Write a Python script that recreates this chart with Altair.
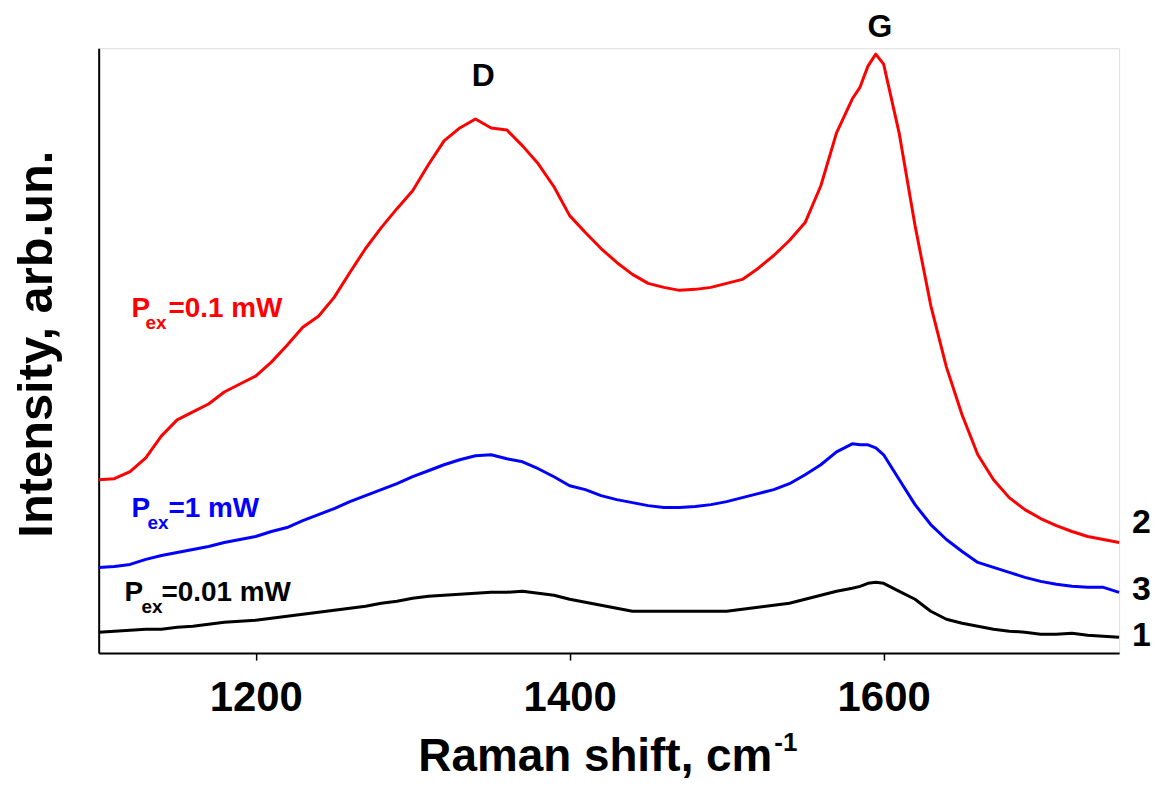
import altair as alt
import pandas as pd

# Raman shift grid (cm^-1)
wavenumber = [1100, 1110, 1120, 1130, 1140, 1150, 1160, 1170, 1180, 1190,
              1200, 1210, 1220, 1230, 1240, 1250, 1260, 1270, 1280, 1290,
              1300, 1310, 1320, 1330, 1340, 1350, 1360, 1370, 1380, 1390,
              1400, 1410, 1420, 1430, 1440, 1450, 1460, 1470, 1480, 1490,
              1500, 1510, 1520, 1530, 1540, 1550, 1560, 1570, 1580, 1585,
              1590, 1595, 1600, 1610, 1620, 1630, 1640, 1650, 1660, 1670,
              1680, 1690, 1700, 1710, 1720, 1730, 1740, 1750]

# curve 2: Pex = 0.1 mW (red)
red = [174, 175, 182, 196, 218, 234, 242, 250, 262, 270,
       278, 292, 309, 327, 338, 357, 382, 406, 427, 446,
       464, 490, 514, 527, 536, 527, 525, 509, 491, 468,
       439, 422, 406, 392, 380, 371, 367, 364, 365, 367,
       371, 375, 386, 399, 414, 432, 469, 522, 556, 568,
       589, 601, 591, 521, 429, 349, 287, 239, 199, 174,
       156, 144, 135, 128, 122, 117, 114, 111]

# curve 3: Pex = 1 mW (blue)
blue = [86, 87, 89, 94, 98, 101, 104, 107, 111, 114,
        117, 122, 126, 133, 139, 145, 152, 158, 164, 170,
        177, 183, 189, 194, 198, 199, 195, 192, 185, 177,
        168, 164, 158, 154, 151, 148, 146, 146, 147, 149,
        152, 156, 160, 164, 170, 179, 189, 202, 210, 209,
        209, 206, 199, 174, 149, 129, 114, 102, 91, 86,
        81, 76, 72, 69, 67, 66, 66, 61]

# curve 1: Pex = 0.01 mW (black)
black = [21, 22, 23, 24, 24, 26, 27, 29, 31, 32,
         33, 35, 37, 39, 41, 43, 45, 47, 50, 52,
         55, 57, 58, 59, 60, 61, 61, 62, 60, 58,
         54, 51, 48, 45, 42, 42, 42, 42, 42, 42,
         42, 44, 46, 48, 50, 54, 58, 62, 65, 67,
         70, 71, 70, 62, 54, 42, 34, 30, 27, 24,
         22, 21, 19, 19, 20, 18, 17, 16]

series_names = ["0.1 mW", "1 mW", "0.01 mW"]
series_colors = ["#ff0000", "#0000ff", "#000000"]
xticks = [1200, 1400, 1600]

rows = []
for name, vals in zip(series_names, [red, blue, black]):
    for w, v in zip(wavenumber, vals):
        rows.append({"w": w, "I": v, "s": name})
df = pd.DataFrame(rows)

W, H = 1024, 607
FONT = "Liberation Sans"

lines = alt.Chart(df).mark_line(strokeWidth=3, strokeJoin="round").encode(
    x=alt.X("w:Q", scale=alt.Scale(domain=[1100, 1750], nice=False, zero=False),
            axis=alt.Axis(values=xticks, title=None, grid=False, format="d",
                          domainColor="black", domainWidth=2,
                          tickColor="black", tickWidth=1.5, tickSize=7,
                          labelFont=FONT, labelFontSize=42, labelFontWeight="bold",
                          labelColor="black", labelBaseline="alphabetic",
                          labelPadding=51)),
    y=alt.Y("I:Q", scale=alt.Scale(domain=[0, 607], nice=False, zero=True),
            axis=alt.Axis(labels=False, ticks=False, title=None, grid=False,
                          domainColor="black", domainWidth=2)),
    color=alt.Color("s:N", scale=alt.Scale(domain=series_names, range=series_colors),
                    legend=None),
    detail="s:N",
)


def txt(text, x, y, size, color="black", align="left", angle=0):
    kw = dict(text=text, font=FONT, fontSize=size, fontWeight="bold",
              color=color, align=align, baseline="alphabetic")
    if angle:
        kw["angle"] = angle
    return alt.Chart(df.head(1)).mark_text(**kw).encode(
        x=alt.value(x), y=alt.value(y))


labels = [
    # peak labels
    txt("D", 386, 38, 32, align="center"),
    txt("G", 784, -11, 32, align="center"),
    # curve numbers
    txt("2", 1037, 486, 34),
    txt("3", 1037, 554, 34),
    txt("1", 1037, 600, 34),
    # excitation power labels
    txt("P", 33, 270, 28, "#ff0000"),
    txt("ex", 47, 282, 19, "#ff0000"),
    txt("=0.1 mW", 70, 270, 28, "#ff0000"),
    txt("P", 33, 470, 28, "#0000ff"),
    txt("ex", 49, 482, 19, "#0000ff"),
    txt("=1 mW", 70, 470, 28, "#0000ff"),
    txt("P", 26, 555, 28),
    txt("ex", 43, 567, 19),
    txt("=0.01 mW", 63, 555, 28),
    # axis titles
    txt("Raman shift, cm", 676, 725, 46, align="right"),
    txt("-1", 678, 705, 26),
    txt("Intensity, arb.un.", -47, 297, 49, align="center", angle=270),
]

chart = alt.layer(lines, *labels).properties(
    width=W, height=H,
    autosize=alt.AutoSizeParams(type="none"),
    padding={"left": 91, "top": 39, "right": 35, "bottom": 126},
).configure_view(stroke=None).configure(background="white")

chart.save("out.html", embed_options={"renderer": "svg", "actions": False})
